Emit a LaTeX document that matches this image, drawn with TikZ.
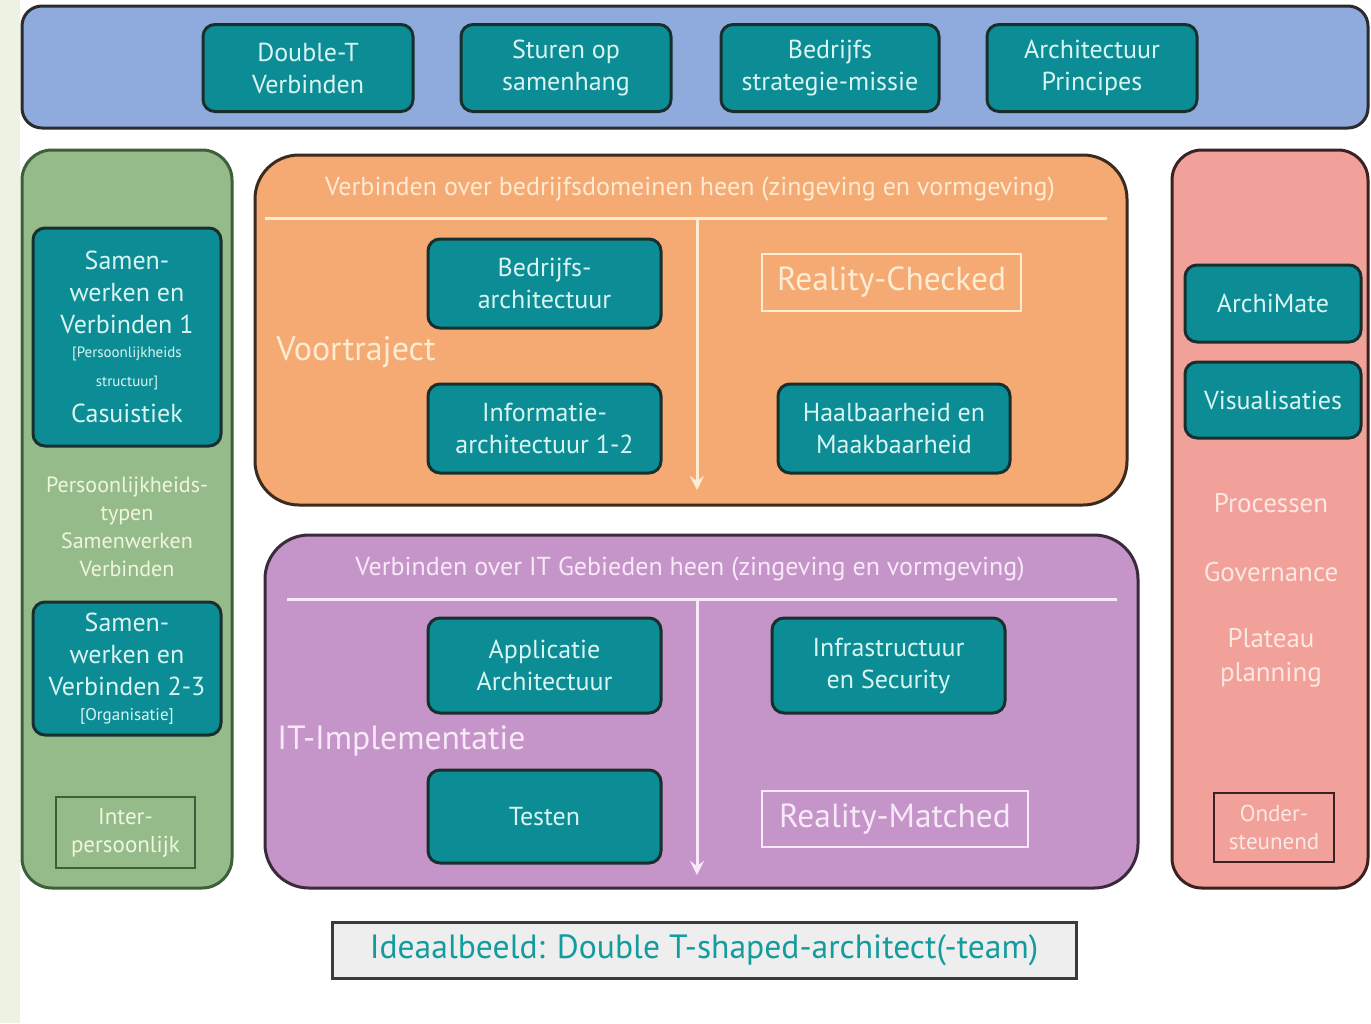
\documentclass[tikz,border=0pt]{standalone}
\usepackage{fontspec}
\setmainfont{PT Sans}
\usetikzlibrary{arrows.meta}
\definecolor{stripc}{HTML}{EEF2E2}
\definecolor{bluef}{HTML}{8FAADC}
\definecolor{blueb}{HTML}{2B2B2B}
\definecolor{tealf}{HTML}{0C8C95}
\definecolor{tealb}{HTML}{17302E}
\definecolor{tealt}{HTML}{D9F5F2}
\definecolor{greenf}{HTML}{96BB8B}
\definecolor{greenb}{HTML}{3F5F3B}
\definecolor{greent}{HTML}{EFF6DE}
\definecolor{orangef}{HTML}{F5AA74}
\definecolor{orangeb}{HTML}{3B2A1E}
\definecolor{oranget}{HTML}{FDEBD2}
\definecolor{purplef}{HTML}{C594C9}
\definecolor{purpleb}{HTML}{3A2A3C}
\definecolor{purplet}{HTML}{F7E9F7}
\definecolor{pinkf}{HTML}{F2A19A}
\definecolor{pinkb}{HTML}{3A2222}
\definecolor{pinkt}{HTML}{FDE7E3}
\definecolor{grayf}{HTML}{EEEEEE}
\definecolor{grayb}{HTML}{3A3A3A}
\definecolor{ideal}{HTML}{139C9E}
\tikzset{
  x=0.5pt, y=-0.5pt,
  panel/.style={draw, line width=1.5pt, inner sep=0pt},
  tealbox/.style={draw=tealb, line width=1.5pt, fill=tealf, rounded corners=6pt,
    text=tealt, align=center, inner sep=0pt, font=\fontsize{13}{16}\selectfont},
  lbl/.style={inner sep=0pt, align=center},
  outlinebox/.style={line width=1.2pt, inner sep=0pt, align=center},
  flowline/.style={line width=1.5pt},
}
\begin{document}
\begin{tikzpicture}
\useasboundingbox (0,0) rectangle (1371,1023);
\fill[white] (0,0) rectangle (1371,1023);
\fill[stripc] (0,0) rectangle (20,1023);

% top bar
\node[panel, draw=blueb, fill=bluef, rounded corners=10pt, minimum width=673pt, minimum height=61pt] (top) at (695,67) {};
\node[tealbox, minimum width=105pt, minimum height=43.5pt] (dt) at (308,68) {Double-T\\Verbinden};
\node[tealbox, minimum width=105pt, minimum height=43.5pt] (su) at (566,68) {Sturen op\\samenhang};
\node[tealbox, minimum width=109pt, minimum height=43.5pt] (bs) at (830,68) {Bedrijfs\\strategie-missie};
\node[tealbox, minimum width=105pt, minimum height=43.5pt] (ap) at (1092,68) {Architectuur\\Principes};

% left green panel
\node[panel, draw=greenb, fill=greenf, rounded corners=15pt, minimum width=105pt, minimum height=369pt] (green) at (127,519) {};
\node[tealbox, minimum width=94pt, minimum height=109pt] (sv1) at (127,337)
  {Samen-\\werken en\\Verbinden 1\\[-4pt]{\fontsize{7.5}{9}\selectfont [Persoonlijkheids}\\[-1.5pt]{\fontsize{7.5}{9}\selectfont structuur]}\\[2pt]Casuistiek};
\node[lbl, text=greent, font=\fontsize{11}{14}\selectfont] (pt) at (127,527)
  {Persoonlijkheids-\\typen\\Samenwerken\\Verbinden};
\node[tealbox, minimum width=94pt, minimum height=66.5pt] (sv2) at (127,668.5)
  {Samen-\\werken en\\Verbinden 2-3\\[-3.5pt]{\fontsize{8.5}{9}\selectfont [Organisatie]}};
\node[outlinebox, draw=greenb, text=greent, font=\fontsize{11.5}{14}\selectfont, minimum width=69.5pt, minimum height=35.5pt] (ip) at (125.5,832.5) {Inter-\\persoonlijk};

% orange panel
\node[panel, draw=orangeb, fill=orangef, rounded corners=22pt, minimum width=436pt, minimum height=175pt] (orange) at (691,330) {};
\node[lbl, text=oranget, font=\fontsize{13}{15}\selectfont] (otitle) at (690,189)
  {Verbinden over bedrijfsdomeinen heen (zingeving en vormgeving)};
\coordinate (ol1) at (265,218);
\coordinate (ol2) at (1107,218);
\coordinate (oa1) at (697,218);
\coordinate (oa2) at (697,490);
\draw[flowline, draw=oranget] (ol1) -- (ol2);
\draw[flowline, draw=oranget, -{Stealth[length=7pt,width=7pt,inset=2.5pt]}] (oa1) -- (oa2);
\node[tealbox, minimum width=116.5pt, minimum height=44.5pt] (ba) at (544.5,283.5) {Bedrijfs-\\architectuur};
\node[tealbox, minimum width=116.5pt, minimum height=44.5pt] (ia) at (544.5,428.5) {Informatie-\\architectuur 1-2};
\node[tealbox, minimum width=116pt, minimum height=44.5pt] (hm) at (894,428.5) {Haalbaarheid en\\Maakbaarheid};
\node[lbl, anchor=west, text=oranget, font=\fontsize{17}{20}\selectfont] (vt) at (276,352) {Voortraject};
\node[outlinebox, draw=oranget, text=oranget, font=\fontsize{16.7}{19}\selectfont, minimum width=129.5pt, minimum height=28.5pt] (rc) at (891.5,282.5) {Reality-Checked};

% purple panel
\node[panel, draw=purpleb, fill=purplef, rounded corners=22pt, minimum width=436.5pt, minimum height=176.5pt] (purple) at (701.5,711.5) {};
\node[lbl, text=purplet, font=\fontsize{13}{15}\selectfont] (ptitle) at (690,569)
  {Verbinden over IT Gebieden heen (zingeving en vormgeving)};
\coordinate (pl1) at (287,599);
\coordinate (pl2) at (1117,599);
\coordinate (pa1) at (697,599);
\coordinate (pa2) at (697,875);
\draw[flowline, draw=purplet] (pl1) -- (pl2);
\draw[flowline, draw=purplet, -{Stealth[length=7pt,width=7pt,inset=2.5pt]}] (pa1) -- (pa2);
\node[tealbox, minimum width=116.5pt, minimum height=47.5pt] (aa) at (544.5,665.5) {Applicatie\\Architectuur};
\node[tealbox, minimum width=116.5pt, minimum height=47.5pt] (is) at (888.5,665.5) {Infrastructuur\\en Security};
\node[tealbox, minimum width=116.5pt, minimum height=46.5pt] (te) at (544.5,816.5) {Testen};
\node[lbl, anchor=west, text=purplet, font=\fontsize{16.8}{20}\selectfont] (iti) at (277,741) {IT-Implementatie};
\node[outlinebox, draw=purplet, text=purplet, font=\fontsize{16.7}{19}\selectfont, minimum width=133pt, minimum height=28pt] (rm) at (895,819) {Reality-Matched};

% right pink panel
\node[panel, draw=pinkb, fill=pinkf, rounded corners=15pt, minimum width=98pt, minimum height=369pt] (pink) at (1270,519) {};
\node[tealbox, minimum width=88pt, minimum height=38.5pt] (am) at (1273,303.5) {ArchiMate};
\node[tealbox, minimum width=88pt, minimum height=38pt] (vi) at (1273,400) {Visualisaties};
\node[lbl, text=pinkt, font=\fontsize{13.5}{17}\selectfont] (pr) at (1271,503) {Processen};
\node[lbl, text=pinkt, font=\fontsize{13.5}{17}\selectfont] (go) at (1271,572) {Governance};
\node[lbl, text=pinkt, font=\fontsize{13.5}{17}\selectfont] (pp) at (1271,658) {Plateau\\planning};
\node[outlinebox, draw=pinkb, text=pinkt, font=\fontsize{11.5}{14}\selectfont, minimum width=60pt, minimum height=34.5pt] (os) at (1274,827.5) {Onder-\\steunend};

% bottom
\node[draw=grayb, line width=1.5pt, fill=grayf, text=ideal, inner sep=0pt, font=\fontsize{16.8}{19}\selectfont, minimum width=372pt, minimum height=28pt] (ib) at (704,950) {Ideaalbeeld: Double T-shaped-architect(-team)};
\end{tikzpicture}
\end{document}
